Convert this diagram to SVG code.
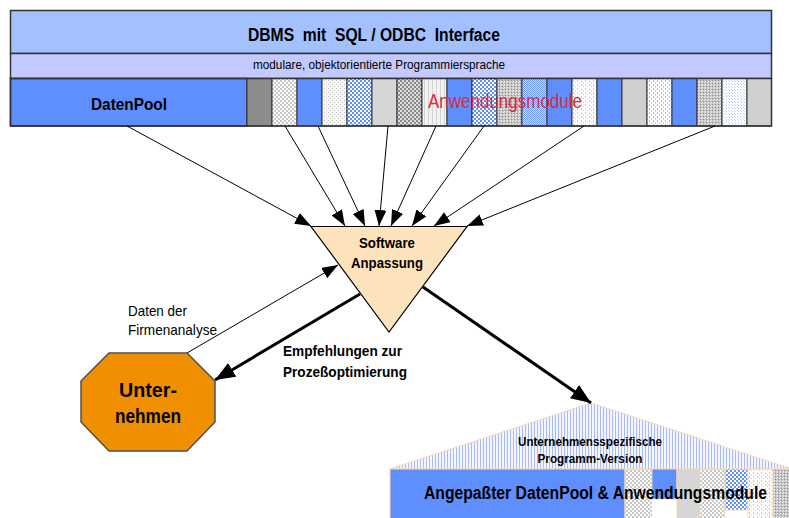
<svg xmlns="http://www.w3.org/2000/svg" width="789" height="518" viewBox="0 0 789 518">
<style>
text{font-family:"Liberation Sans",Arial,sans-serif;fill:#000}
.b{font-weight:bold}
.cell{stroke:#333;stroke-width:1}
.hc{stroke:#f6d8b0;stroke-width:1}
.thin{stroke:#000;stroke-width:1;fill:none}
.thick{stroke:#000;stroke-width:3;fill:none}
.pre{white-space:pre}
</style>
<defs>
<marker id="ah" markerUnits="userSpaceOnUse" markerWidth="16" markerHeight="12" refX="16" refY="6" orient="auto"><path d="M0,0 L16,6 L0,12 z" fill="#000"/></marker>
<marker id="ahb" markerUnits="userSpaceOnUse" markerWidth="20" markerHeight="16" refX="20" refY="8" orient="auto"><path d="M0,0 L20,8 L0,16 z" fill="#000"/></marker>
<pattern id="chkL" width="4" height="4" patternUnits="userSpaceOnUse"><rect width="4" height="4" fill="#fff"/><rect width="2" height="2" fill="#c6c6c6"/><rect x="2" y="2" width="2" height="2" fill="#c6c6c6"/></pattern>
<pattern id="chkD" width="4" height="4" patternUnits="userSpaceOnUse"><rect width="4" height="4" fill="#dcdcdc"/><rect width="2" height="2" fill="#8a8a8a"/><rect x="2" y="2" width="2" height="2" fill="#8a8a8a"/></pattern>
<pattern id="chkB" width="4" height="4" patternUnits="userSpaceOnUse"><rect width="4" height="4" fill="#fff"/><rect width="2" height="2" fill="#5f8fff"/><rect x="2" y="2" width="2" height="2" fill="#5f8fff"/></pattern>
<pattern id="chkB2" width="2" height="2" patternUnits="userSpaceOnUse"><rect width="2" height="2" fill="#c8d8ff"/><rect width="1" height="1" fill="#6f9aff"/><rect x="1" y="1" width="1" height="1" fill="#6f9aff"/></pattern>
<pattern id="dotL" width="4" height="4" patternUnits="userSpaceOnUse"><rect width="4" height="4" fill="#f6f6f6"/><rect width="1" height="1" fill="#c0c0c0"/><rect x="2" y="2" width="1" height="1" fill="#c8c8c8"/></pattern>
<pattern id="dotG" width="3" height="3" patternUnits="userSpaceOnUse"><rect width="3" height="3" fill="#c4c4c4"/><rect width="1" height="1" fill="#f0f0f0"/><rect x="1" y="2" width="1" height="1" fill="#8c8c8c"/><rect x="2" y="1" width="1" height="1" fill="#e8e8e8"/></pattern>
<pattern id="strL" width="4" height="4" patternUnits="userSpaceOnUse"><rect width="4" height="4" fill="#f2f2f2"/><rect width="1" height="4" fill="#d4d4d4"/></pattern>
<pattern id="dotW" width="4" height="4" patternUnits="userSpaceOnUse"><rect width="4" height="4" fill="#fff"/><rect x="1" y="0" width="1" height="2" fill="#c8c8c8"/><rect x="3" y="2" width="1" height="1" fill="#d0d0d0"/></pattern>
<pattern id="dashB" width="4" height="4" patternUnits="userSpaceOnUse"><rect width="4" height="4" fill="#fff"/><rect x="1" y="0" width="1" height="2" fill="#9ab6ff"/><rect x="3" y="2" width="1" height="2" fill="#c0d2ff"/></pattern>
<pattern id="dotB" width="3" height="3" patternUnits="userSpaceOnUse"><rect width="3" height="3" fill="#fff"/><rect width="1" height="1" fill="#b8ccff"/><rect x="2" y="2" width="1" height="1" fill="#c8d8ff"/></pattern>
<pattern id="roof" width="3" height="3" patternUnits="userSpaceOnUse"><rect width="3" height="3" fill="#f4f6ff"/><rect width="1" height="3" fill="#a8baf8"/></pattern>
</defs>

<g id="dbms">
<rect x="10.5" y="10.5" width="761" height="43" fill="#a3c0ff" stroke="#333" stroke-width="1.5"/>
<text class="b pre" x="248" y="41" font-size="17.5" textLength="252" lengthAdjust="spacingAndGlyphs">DBMS  mit  SQL / ODBC  Interface</text>
</g>
<g id="sprache">
<rect x="10.5" y="53.5" width="761" height="25" fill="#c3caff" stroke="#333" stroke-width="1.5"/>
<text x="253" y="69" font-size="12.5" textLength="252" lengthAdjust="spacingAndGlyphs">modulare, objektorientierte Programmiersprache</text>
</g>
<g id="datenpool">
<rect x="10.5" y="78.5" width="236.5" height="47.5" fill="#5f8fff" stroke="#333" stroke-width="1.5"/>
<text class="b" x="91" y="110" font-size="17" textLength="76" lengthAdjust="spacingAndGlyphs">DatenPool</text>
</g>
<g id="anwendungsmodule">
<rect class="cell" x="247" y="78.5" width="25" height="47.5" fill="#8c8c8c"/>
<rect class="cell" x="272" y="78.5" width="25" height="47.5" fill="url(#chkL)"/>
<rect class="cell" x="297" y="78.5" width="25" height="47.5" fill="#5f8fff"/>
<rect class="cell" x="322" y="78.5" width="25" height="47.5" fill="url(#dotL)"/>
<rect class="cell" x="347" y="78.5" width="25" height="47.5" fill="url(#chkB)"/>
<rect class="cell" x="372" y="78.5" width="25" height="47.5" fill="#d6d6d6"/>
<rect class="cell" x="397" y="78.5" width="25" height="47.5" fill="url(#chkD)"/>
<rect class="cell" x="422" y="78.5" width="25" height="47.5" fill="url(#strL)"/>
<rect class="cell" x="447" y="78.5" width="25" height="47.5" fill="#5f8fff"/>
<rect class="cell" x="472" y="78.5" width="25" height="47.5" fill="url(#chkB)"/>
<rect class="cell" x="497" y="78.5" width="25" height="47.5" fill="url(#dotG)"/>
<rect class="cell" x="522" y="78.5" width="25" height="47.5" fill="url(#chkB2)"/>
<rect class="cell" x="547" y="78.5" width="25" height="47.5" fill="#5f8fff"/>
<rect class="cell" x="572" y="78.5" width="25" height="47.5" fill="url(#dotW)"/>
<rect class="cell" x="597" y="78.5" width="25" height="47.5" fill="#5f8fff"/>
<rect class="cell" x="622" y="78.5" width="25" height="47.5" fill="#d0d0d0"/>
<rect class="cell" x="647" y="78.5" width="25" height="47.5" fill="url(#dashB)"/>
<rect class="cell" x="672" y="78.5" width="25" height="47.5" fill="#5f8fff"/>
<rect class="cell" x="697" y="78.5" width="25" height="47.5" fill="url(#dotG)"/>
<rect class="cell" x="722" y="78.5" width="25" height="47.5" fill="url(#dotB)"/>
<rect class="cell" x="747" y="78.5" width="24.5" height="47.5" fill="#d0d0d0"/>
<rect x="10.5" y="78.5" width="761" height="47.5" fill="none" stroke="#333" stroke-width="1.5"/>
<text x="428" y="108" font-size="20" textLength="154" lengthAdjust="spacingAndGlyphs" style="fill:#dd2a36">Anwendungsmodule</text>
</g>

<g id="software">
<polygon points="311,226.5 467,226.5 389,332" fill="#fde3bb" stroke="#000" stroke-width="1.2"/>
<text class="b" x="387" y="248" font-size="15.5" text-anchor="middle" textLength="56" lengthAdjust="spacingAndGlyphs">Software</text>
<text class="b" x="387" y="268" font-size="15.5" text-anchor="middle" textLength="72" lengthAdjust="spacingAndGlyphs">Anpassung</text>
</g>

<g id="unternehmen">
<polygon points="109,353 187,353 215,381 215,422 187,451 109,451 81,422 81,381" fill="#f09000" stroke="#505050" stroke-width="1.5"/>
<text class="b" x="148" y="397" font-size="19.5" text-anchor="middle" textLength="58" lengthAdjust="spacingAndGlyphs">Unter-</text>
<text class="b" x="148" y="423" font-size="19.5" text-anchor="middle" textLength="66" lengthAdjust="spacingAndGlyphs">nehmen</text>
</g>

<g id="version">
<polygon points="390,469 591,403 792,469" fill="url(#roof)" stroke="#f6d8b0" stroke-width="1"/>
<rect class="hc" x="390" y="469" width="235" height="50" fill="#5f8fff"/>
<rect class="hc" x="625" y="469" width="27" height="50" fill="url(#chkL)"/>
<rect x="652" y="469" width="25" height="50" fill="#fff"/>
<rect class="hc" x="652" y="469" width="25" height="30" fill="#5f8fff"/>
<rect class="hc" x="677" y="469" width="23" height="50" fill="#d6d6d6"/>
<rect class="hc" x="700" y="469" width="25" height="50" fill="url(#chkL)"/>
<rect x="725" y="469" width="23" height="50" fill="#fff"/>
<rect class="hc" x="725" y="469" width="23" height="41" fill="url(#chkB)"/>
<rect class="hc" x="748" y="469" width="25" height="50" fill="url(#dotW)"/>
<rect class="hc" x="773" y="469" width="20" height="50" fill="url(#dotG)"/>
<text class="b" x="590" y="446" font-size="13" text-anchor="middle" textLength="144" lengthAdjust="spacingAndGlyphs">Unternehmensspezifische</text>
<text class="b" x="590" y="463" font-size="13" text-anchor="middle" textLength="105" lengthAdjust="spacingAndGlyphs">Programm-Version</text>
<text class="b" x="424" y="499" font-size="18" textLength="343" lengthAdjust="spacingAndGlyphs">Angepaßter DatenPool &amp; Anwendungsmodule</text>
</g>

<g id="connectors">
<line class="thin" x1="127" y1="126" x2="311" y2="226" marker-end="url(#ah)"/>
<line class="thin" x1="285" y1="126" x2="345" y2="226" marker-end="url(#ah)"/>
<line class="thin" x1="318" y1="126" x2="365" y2="226" marker-end="url(#ah)"/>
<line class="thin" x1="388" y1="126" x2="379" y2="226" marker-end="url(#ah)"/>
<line class="thin" x1="436" y1="126" x2="391" y2="226" marker-end="url(#ah)"/>
<line class="thin" x1="484" y1="126" x2="412" y2="226" marker-end="url(#ah)"/>
<line class="thin" x1="584" y1="126" x2="434" y2="226" marker-end="url(#ah)"/>
<line class="thin" x1="715" y1="126" x2="467" y2="226" marker-end="url(#ah)"/>
<line class="thin" x1="187" y1="353" x2="338" y2="265" marker-end="url(#ah)"/>
<line class="thick" x1="360" y1="294" x2="215" y2="380" marker-end="url(#ahb)"/>
<line class="thick" x1="423" y1="287" x2="591" y2="403" marker-end="url(#ahb)"/>
</g>

<g id="labels">
<text x="128" y="316" font-size="14.5" textLength="59" lengthAdjust="spacingAndGlyphs">Daten der</text>
<text x="128" y="335" font-size="14.5" textLength="89" lengthAdjust="spacingAndGlyphs">Firmenanalyse</text>
<text class="b" x="283" y="356" font-size="15.5" textLength="119" lengthAdjust="spacingAndGlyphs">Empfehlungen zur</text>
<text class="b" x="283" y="377" font-size="15.5" textLength="124" lengthAdjust="spacingAndGlyphs">Prozeßoptimierung</text>
</g>
</svg>
